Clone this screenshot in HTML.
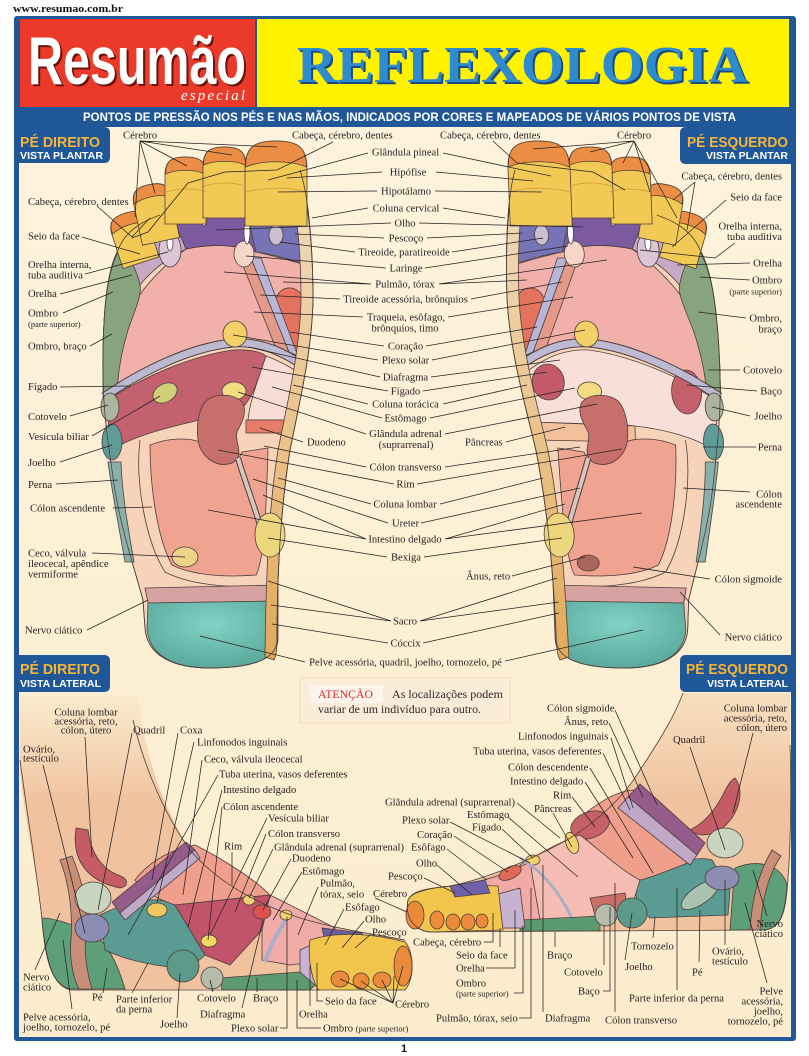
<!DOCTYPE html>
<html><head><meta charset="utf-8">
<style>
html,body{margin:0;padding:0;background:#fff;}
svg{display:block;}
.t text{font-family:"Liberation Serif",serif;font-size:10.6px;fill:#231f20;}
.t .s,.s{font-size:8.5px;}
.t .m{text-anchor:middle;}
.t .e{text-anchor:end;}
</style></head><body>
<svg width="809" height="1056" viewBox="0 0 809 1056" xmlns="http://www.w3.org/2000/svg" xmlns:xlink="http://www.w3.org/1999/xlink">
<defs>
<linearGradient id="sp" x1="0" y1="170" x2="0" y2="660" gradientUnits="userSpaceOnUse">
<stop offset="0" stop-color="#f0dcc0"/><stop offset="0.5" stop-color="#ebc58e"/><stop offset="1" stop-color="#e2a95a"/></linearGradient>
<radialGradient id="hl" cx="0.5" cy="0.35" r="0.65"><stop offset="0" stop-color="#82d2c5"/><stop offset="1" stop-color="#5aa99c"/></radialGradient>
<linearGradient id="legR" x1="0" y1="690" x2="0" y2="800" gradientUnits="userSpaceOnUse"><stop offset="0" stop-color="#f3d2b0" stop-opacity="0.15"/><stop offset="1" stop-color="#f0c29f"/></linearGradient>
<linearGradient id="legL" x1="0" y1="690" x2="0" y2="800" gradientUnits="userSpaceOnUse"><stop offset="0" stop-color="#f3d2b0" stop-opacity="0.55"/><stop offset="1" stop-color="#f0c29f"/></linearGradient>
<linearGradient id="bg" x1="0" y1="0" x2="0" y2="1"><stop offset="0" stop-color="#fdf3dc"/><stop offset="1" stop-color="#fbeccd"/></linearGradient>

<g id="pfA" stroke="#4d3f3a" stroke-width=".8">
<path fill="#f6d3b9" d="M118,250 C125,232 140,222 160,215 L300,170 C310,200 313,260 313,300 C312,350 300,400 290,450 C282,500 277,560 277,640 C277,660 250,668 210,668 C172,668 147,655 145,628 L143,600 C132,560 118,520 112,470 C106,430 102,400 103,350 C104,300 108,270 118,250 Z"/>
<path fill="#f2b0ab" d="M104,392 C104,370 110,345 125,318 C140,290 160,268 186,249 C210,244 235,244 256,252 C275,256 295,262 309,266 L305,364 C285,352 262,339 233,339 C190,343 150,363 104,392 Z"/>
<path fill="#87a47e" d="M118,252 C108,272 104,300 103,350 L103,398 L117,392 C118,370 122,350 128,330 C135,310 142,295 140,285 C138,270 134,258 130,252 Z"/>
<path fill="#c8a9c5" d="M120,250 C128,236 148,228 178,230 L186,249 C168,258 152,270 140,285 C136,268 130,256 120,250 Z"/>
<path fill="#7d5aa0" d="M150,232 L250,200 L256,252 C235,244 210,244 186,249 L178,230 Z"/>
<path fill="#7773b7" d="M245,205 L306,205 L309,266 C292,260 272,254 256,252 Z"/>
<path fill="#e3735e" d="M284,289 C298,284 307,297 306,318 L303,362 C287,360 273,346 273,321 C273,301 277,292 284,289 Z"/>
<path fill="#e49a89" d="M240,258 L251,258 L289,352 L279,356 Z"/>
<path fill="#b8b6d8" d="M251,258 L261,258 L298,356 L289,352 Z"/>
<ellipse cx="244" cy="254" rx="10" ry="13" fill="#f5d6c8"/>
<ellipse cx="276" cy="235" rx="7" ry="10" fill="#cbbfd0"/>
<ellipse cx="170" cy="250" rx="11" ry="17" fill="#dac6d6"/>
<ellipse cx="204" cy="212" rx="3.5" ry="14" fill="#fff"/>
<ellipse cx="247" cy="232" rx="3" ry="12" fill="#fff"/>
<ellipse cx="170" cy="243" rx="3" ry="8" fill="#fff"/>
</g>

<g id="pfB" stroke="#4d3f3a" stroke-width=".8">
<path fill="#f1a392" d="M150,445 C170,437 190,438 200,442 L215,462 C225,468 238,462 242,452 L268,448 C267,480 266,520 263,545 C261,560 259,570 256,575 C220,578 190,574 172,565 C158,540 150,490 150,445 Z"/>
<path fill="none" d="M140,440 C135,480 145,540 165,572 C190,585 230,588 262,586"/>
<path fill="none" stroke-width="9" d="M104,397 C140,372 190,347 233,343 C262,341 285,353 305,367"/>
<path fill="none" stroke="#bdb9d3" stroke-width="7" d="M104,397 C140,372 190,347 233,343 C262,341 285,353 305,367"/>
<ellipse cx="235" cy="334" rx="12" ry="13" fill="#f4d168"/>
<ellipse cx="234" cy="391" rx="12" ry="9" fill="#f4dc80"/>
<path fill="#c66f6b" d="M205,402 C212,394 232,392 242,402 C248,412 242,422 237,432 C234,442 246,455 232,463 C216,469 200,456 198,440 C196,424 199,410 205,402 Z"/>
<path fill="none" stroke-width="6" d="M238,458 C245,482 255,507 262,532"/>
<path fill="none" stroke="#d6c6bf" stroke-width="4" d="M238,458 C245,482 255,507 262,532"/>
<path fill="#d7a3a2" d="M145,588 L278,585 L278,601 L148,603 Z"/>
<path fill="url(#hl)" d="M148,603 L278,601 L278,640 C277,660 250,668 210,668 C172,668 150,655 147,630 Z"/>
<path fill="url(#sp)" d="M298,172 C310,200 313,260 313,300 C312,350 300,400 290,450 C282,500 277,560 277,640 C277,650 276,656 274,660 L265,657 C266,560 270,500 278,450 C288,400 300,350 301,300 C301,260 298,210 288,176 Z"/>
<ellipse cx="270" cy="535" rx="15" ry="22" fill="#ecd77f"/>
<ellipse cx="110" cy="407" rx="9" ry="14" fill="#abb59f"/>
<ellipse cx="112" cy="442" rx="10" ry="18" fill="#5f9c98"/>
<path fill="#8bb0ab" d="M108,462 C112,492 118,522 125,562 L134,562 C127,522 122,492 121,462 Z"/>
<g transform="rotate(-18 133 238)"><path fill="#f2c955" d="M114,264 L114,229.1 C114,215.8 119.7,212 133,212 C146.3,212 152,215.8 152,229.1 L152,264 Z"/><path fill="#ec8d44" d="M114.5,228 C114.5,215.8 119.7,212 133,212 C146.3,212 151.5,215.8 151.5,228 C141,223 125,223 114.5,228 Z"/></g>
<g transform="rotate(-12 155 213)"><path fill="#f2c955" d="M136,242 L136,201.1 C136,187.8 141.7,184 155,184 C168.3,184 174,187.8 174,201.1 L174,242 Z"/><path fill="#ec8d44" d="M136.5,200 C136.5,187.8 141.7,184 155,184 C168.3,184 173.5,187.8 173.5,200 C163,195 147,195 136.5,200 Z"/></g>
<path fill="#f2c955" d="M165,224 L165,175.5 C165,161.1 171.2,157 185.5,157 C199.8,157 206,161.1 206,175.5 L206,224 Z"/>
<path fill="#ec8d44" d="M165.5,174 C165.5,161.1 171.2,157 185.5,157 C199.8,157 205.5,161.1 205.5,174 C194,169 177,169 165.5,174 Z"/>
<path fill="#f2c955" d="M203,218 L203,166.4 C203,151.3 209.5,147 224.5,147 C239.5,147 246,151.3 246,166.4 L246,218 Z"/>
<path fill="#ec8d44" d="M203.5,165 C203.5,151.3 209.5,147 224.5,147 C239.5,147 245.5,151.3 245.5,165 C234,160 215,160 203.5,165 Z"/>
<path fill="#f2c955" d="M245,226 L245,168.9 C245,147.2 254.3,141 276,141 C297.7,141 307,147.2 307,168.9 L307,226 Z"/>
<path fill="#ec8d44" d="M245.5,167 C245.5,147.2 254.3,141 276,141 C297.7,141 306.5,147.2 306.5,167 C290,160 262,160 245.5,167 Z"/>
<path fill="none" stroke="#c99a3a" d="M246,192 C265,187 290,187 307,192 M204,186 C218,182 232,182 246,186 M166,192 C180,188 195,188 206,192"/>
<path fill="none" d="M118,250 C125,232 140,222 160,215 M300,170 C310,200 313,260 313,300 C312,350 300,400 290,450 C282,500 277,560 277,640 C277,660 250,668 210,668 C172,668 147,655 145,628 L143,600 C132,560 118,520 112,470 C106,430 102,400 103,350 C104,300 108,270 118,250"/>
</g>
</defs>

<rect width="809" height="1056" fill="#fff"/>
<text x="13" y="12" font-family="Liberation Serif,serif" font-weight="bold" font-size="11" textLength="110" lengthAdjust="spacingAndGlyphs" fill="#111">www.resumao.com.br</text>
<rect x="14" y="16" width="782" height="1025" rx="3" fill="#1f5799"/>
<rect x="19" y="127" width="772" height="910" fill="url(#bg)"/>
<rect x="20" y="19" width="235" height="88" fill="#ec3a2a"/>
<rect x="257" y="19" width="532" height="88" fill="#fff200"/>
<text x="30" y="86" font-family="Liberation Sans Narrow,Liberation Sans,sans-serif" font-weight="bold" font-size="68" textLength="218" lengthAdjust="spacingAndGlyphs" fill="#6a1309">Resumão</text>
<text x="28" y="84" font-family="Liberation Sans Narrow,Liberation Sans,sans-serif" font-weight="bold" font-size="68" textLength="218" lengthAdjust="spacingAndGlyphs" fill="#fff">Resumão</text>
<text x="181" y="100" font-family="Liberation Serif,serif" font-style="italic" font-size="15" textLength="64" lengthAdjust="spacing" fill="#fff">especial</text>
<text x="299" y="84" font-family="Liberation Serif,serif" font-weight="bold" font-size="52" textLength="451" lengthAdjust="spacingAndGlyphs" fill="#1b4a80">REFLEXOLOGIA</text>
<text x="297" y="82" font-family="Liberation Serif,serif" font-weight="bold" font-size="52" textLength="451" lengthAdjust="spacingAndGlyphs" fill="#2f8bd0">REFLEXOLOGIA</text>
<text x="83" y="121" font-family="Liberation Sans,sans-serif" font-weight="bold" font-size="11.5" textLength="653" lengthAdjust="spacingAndGlyphs" fill="#fff">PONTOS DE PRESSÃO NOS PÉS E NAS MÃOS, INDICADOS POR CORES E MAPEADOS DE VÁRIOS PONTOS DE VISTA</text>

<!-- tabs -->
<g font-family="Liberation Sans,sans-serif" font-weight="bold">
<path d="M14,127 L104,127 Q110,127 110,133 L110,157 Q110,163 104,163 L14,163 Z" fill="#1f5799"/>
<text x="20" y="147" font-size="15" fill="#f7b535" textLength="80" lengthAdjust="spacingAndGlyphs">PÉ DIREITO</text>
<text x="20" y="159" font-size="10.5" fill="#fff" textLength="83" lengthAdjust="spacingAndGlyphs">VISTA PLANTAR</text>
<path d="M796,127 L686,127 Q680,127 680,133 L680,158 Q680,164 686,164 L796,164 Z" fill="#1f5799"/>
<text x="687" y="147" font-size="15" fill="#f7b535" textLength="101" lengthAdjust="spacingAndGlyphs">PÉ ESQUERDO</text>
<text x="788" y="159" font-size="10.5" fill="#fff" text-anchor="end">VISTA PLANTAR</text>
<path d="M14,655 L104,655 Q110,655 110,661 L110,686 Q110,692 104,692 L14,692 Z" fill="#1f5799"/>
<text x="20" y="674" font-size="15" fill="#f7b535" textLength="80" lengthAdjust="spacingAndGlyphs">PÉ DIREITO</text>
<text x="20" y="687" font-size="10.5" fill="#fff" textLength="81" lengthAdjust="spacingAndGlyphs">VISTA LATERAL</text>
<path d="M796,655 L686,655 Q680,655 680,661 L680,686 Q680,692 686,692 L796,692 Z" fill="#1f5799"/>
<text x="686" y="674" font-size="15" fill="#f7b535" textLength="102" lengthAdjust="spacingAndGlyphs">PÉ ESQUERDO</text>
<text x="788" y="687" font-size="10.5" fill="#fff" text-anchor="end">VISTA LATERAL</text>
</g>

<!-- plantar right foot -->
<g>
<use xlink:href="#pfA"/>
<g stroke="#4d3f3a" stroke-width=".8">
<path fill="#c3616f" d="M105,402 C140,378 190,356 233,350 C250,349 262,352 266,356 C258,380 252,400 240,410 L200,420 C165,428 135,436 115,448 C110,430 106,415 105,402 Z"/>
<path fill="#f8ddd5" d="M266,356 C282,362 296,370 302,376 L293,420 L248,420 C250,400 258,380 266,356 Z"/>
<ellipse cx="165" cy="393" rx="13" ry="9" transform="rotate(-30 165 393)" fill="#cfd077"/>
<path fill="#e87c6b" d="M246,420 L288,420 L287,433 L246,433 Z"/>
</g>
<use xlink:href="#pfB"/>
<ellipse cx="185" cy="557" rx="13" ry="10" fill="#ecd487" stroke="#4d3f3a" stroke-width=".8"/>
</g>
<!-- plantar left foot -->
<g transform="matrix(-1,0,0.0386,1,808.5,0)">
<use xlink:href="#pfA"/>
<g stroke="#4d3f3a" stroke-width=".8">
<path fill="#f8e0d8" d="M105,402 C140,378 190,356 233,350 C255,349 275,355 302,376 L293,422 L200,425 C165,428 135,436 115,448 C110,430 106,415 105,402 Z"/>
<ellipse cx="137" cy="392" rx="15" ry="22" fill="#c46069"/>
<ellipse cx="275" cy="382" rx="16" ry="18" fill="#c45a6a"/>
<path fill="#f3c09c" d="M190,426 L292,422 L290,440 L190,442 Z"/>
</g>
<use xlink:href="#pfB"/>
<ellipse cx="242" cy="563" rx="11" ry="8" fill="#a9665c" stroke="#4d3f3a" stroke-width=".8"/>
</g>

<!-- attention box -->
<rect x="300" y="678" width="210" height="45" fill="#fbecd9" stroke="#efdcc0"/>
<rect x="310" y="685" width="73" height="18" fill="#fdf5ec"/>
<g font-family="Liberation Serif,serif" font-size="11.5">
<text x="318" y="698" fill="#d42a2a" textLength="55" lengthAdjust="spacingAndGlyphs">ATENÇÃO</text>
<text x="392" y="698" fill="#2a2a2a" textLength="111" lengthAdjust="spacingAndGlyphs">As localizações podem</text>
<text x="318" y="713" fill="#2a2a2a" textLength="163" lengthAdjust="spacingAndGlyphs">variar de um indivíduo para outro.</text>
</g>

<!-- right lateral -->
<g stroke="#4d3f3a" stroke-width=".8">
<path fill="url(#legR)" stroke="none" d="M20,695 L138,695 C145,760 165,810 190,850 C220,885 260,905 300,918 C340,930 380,935 405,940 C415,950 414,975 405,988 L70,990 C52,985 45,960 42,920 C38,880 25,820 20,770 Z"/>
<path fill="#5d9f79" d="M42,920 C46,960 52,985 70,989 L125,989 C118,965 108,945 95,935 C75,925 55,918 42,918 Z"/>
<path fill="#c98e78" d="M60,860 C68,880 73,910 71,940 C69,960 74,980 79,989 L92,989 C86,970 84,950 86,930 C88,905 82,880 72,856 Z"/>
<path fill="#5a9b93" d="M100,915 C130,900 160,895 175,905 L205,955 L190,968 C160,968 125,960 105,950 Z"/>
<path fill="#ef9f8c" d="M135,880 C150,860 175,848 195,845 C225,860 255,880 270,895 L175,905 C160,900 145,893 135,880 Z"/>
<path fill="#c1546a" d="M175,905 L270,895 L262,930 L230,965 L205,955 Z"/>
<path fill="#f2aca8" d="M270,895 C290,905 320,920 335,928 L332,960 L290,965 L262,960 L262,930 Z"/>
<path fill="#c7b2d2" d="M300,950 L322,940 L330,960 L325,985 L300,985 Z"/>
<path fill="#6e5ea0" d="M322,928 L362,933 L366,944 L326,946 Z"/>
<path fill="#c45c66" d="M76,828 C72,855 82,880 120,888 C130,886 128,878 118,875 C100,868 90,850 88,830 Z"/>
<ellipse cx="93" cy="898" rx="18" ry="16" fill="#c9d5bf"/>
<path fill="#955b8a" d="M112,902 L186,842 L195,850 L120,913 Z"/>
<path fill="#c0a8c8" d="M120,913 L195,850 L200,858 L125,920 Z"/>
<ellipse cx="92" cy="928" rx="17" ry="14" fill="#8d8cb3"/>
<path fill="#5c9a6f" d="M220,978 L300,972 L315,985 L310,990 L222,990 Z"/>
<circle cx="183" cy="966" r="16" fill="#5e9a8a"/>
<circle cx="212" cy="978" r="11" fill="#b6bca9"/>
<path fill="none" stroke="#a9aec8" stroke-width="4" d="M265,962 C272,940 282,925 292,912"/>
<ellipse cx="157" cy="910" rx="10" ry="7" fill="#f0c860"/>
<ellipse cx="209" cy="941" rx="8" ry="6" fill="#f0d860"/>
<ellipse cx="249" cy="900" rx="6" ry="5" fill="#f3d070"/>
<ellipse cx="286" cy="915" rx="6" ry="5" fill="#f3d070"/>
<ellipse cx="262" cy="912" rx="9" ry="7" fill="#e05050"/>
<path fill="#f2c64d" d="M310,940 C340,930 380,935 405,942 C415,955 414,980 405,990 L318,990 C310,975 308,955 310,940 Z"/>
<ellipse cx="340" cy="979" rx="9" ry="8" fill="#ec8a3c"/>
<ellipse cx="361" cy="981" rx="8" ry="8" fill="#ec8a3c"/>
<ellipse cx="382" cy="980" rx="9" ry="8" fill="#ec8a3c"/>
<ellipse cx="403" cy="966" rx="9" ry="20" fill="#ec8a3c"/>
<path fill="none" d="M133,720 C145,770 165,815 190,850 C220,885 260,905 300,918 C340,930 380,935 405,940 M20,760 C28,820 38,880 42,920 C45,960 52,985 70,990 L320,990"/>
</g>

<!-- left lateral -->
<g stroke="#4d3f3a" stroke-width=".8">
<path fill="url(#legL)" stroke="none" d="M683,693 L790,693 L790,745 C792,800 790,860 787,890 C785,915 780,928 765,930 L430,932 C412,930 405,915 408,900 C412,890 430,888 450,886 C490,878 530,860 567,840 C600,820 625,795 640,770 C660,740 675,715 683,693 Z"/>
<path fill="#5d9f79" d="M735,868 C760,858 782,866 787,885 C785,915 780,928 765,930 L730,930 C732,905 733,885 735,868 Z"/>
<path fill="#c98e78" d="M772,850 C760,870 752,895 750,930 L760,930 C762,900 768,875 781,856 Z"/>
<path fill="#5a9b93" d="M640,880 C665,865 695,855 712,860 L730,890 L728,915 L650,918 C635,905 632,890 640,880 Z"/>
<ellipse cx="700" cy="895" rx="22" ry="9" transform="rotate(-35 700 895)" fill="#a9c3b0"/>
<path fill="#c45c66" d="M735,778 C745,790 740,815 720,830 C705,838 695,835 690,830 C700,825 712,815 720,800 C726,790 728,782 735,778 Z"/>
<ellipse cx="725" cy="843" rx="18" ry="15" fill="#c9d5bf"/>
<path fill="#ef9f8c" d="M575,822 C600,800 620,790 635,790 L690,862 C670,870 650,878 640,880 C615,870 590,850 575,822 Z"/>
<path fill="#955b8a" d="M628,797 L640,784 L705,843 L697,855 Z"/>
<path fill="#c0a8c8" d="M618,808 L628,797 L697,855 L690,865 Z"/>
<ellipse cx="722" cy="878" rx="17" ry="12" fill="#8d8cb3"/>
<ellipse cx="590" cy="825" rx="20" ry="13" transform="rotate(-20 590 825)" fill="#c8606a"/>
<path fill="#f5bdb3" d="M520,865 C545,850 565,840 580,835 C600,850 620,870 640,880 L630,912 L560,920 L525,918 Z"/>
<path fill="#f1aaa6" d="M450,888 C480,882 505,875 530,862 L540,920 L470,925 Z"/>
<ellipse cx="510" cy="873" rx="12" ry="6" transform="rotate(-25 510 873)" fill="#e06a58"/>
<ellipse cx="572" cy="843" rx="6" ry="11" transform="rotate(-20 572 843)" fill="#f2d06a"/>
<ellipse cx="533" cy="860" rx="7" ry="5" fill="#f2d06a"/>
<path fill="none" stroke="#a9aec8" stroke-width="3" d="M520,858 C540,870 560,890 575,925"/>
<path fill="#c87068" d="M590,898 L625,893 L628,912 L595,915 Z"/>
<path fill="#5c9a6f" d="M520,920 L600,916 L600,931 L520,931 Z"/>
<circle cx="606" cy="915" r="11" fill="#b6bca9"/>
<circle cx="632" cy="913" r="15" fill="#5e9a8a"/>
<path fill="#c7b2d2" d="M495,895 L520,888 L525,928 L500,928 Z"/>
<path fill="#f2c64d" d="M408,900 C412,890 440,886 470,885 L498,886 L503,930 L430,932 C412,930 405,915 408,900 Z"/>
<path fill="#7060a8" d="M450,886 L485,880 L490,893 L455,897 Z"/>
<ellipse cx="415" cy="915" rx="9" ry="14" fill="#ec8a3c"/>
<ellipse cx="437" cy="920" rx="7" ry="9" fill="#ec8a3c"/>
<ellipse cx="453" cy="922" rx="7" ry="8" fill="#ec8a3c"/>
<ellipse cx="468" cy="922" rx="7" ry="8" fill="#ec8a3c"/>
<ellipse cx="482" cy="921" rx="6" ry="7" fill="#ec8a3c"/>
<path fill="none" d="M683,693 C675,715 660,740 640,770 C625,795 600,820 567,840 C530,860 490,878 450,886 C430,888 412,890 408,900 C405,915 412,930 430,932 L765,930 C780,928 785,915 787,890 C790,860 792,800 790,745"/>
</g>

<!-- leader lines -->
<path fill="none" stroke="#262222" stroke-width=".75" d="
M140,141 L277,147 M140,141 L232,155 M140,141 L187,166 M140,141 L155,193 M140,141 L135,217
M333,142 L277,170 L225,172 L188,183 L148,232 L132,238
M97,206 L132,237 L150,218 M82,237 L140,254 M85,274 L168,252 M60,294 L132,275 M63,313 L113,292 M90,346 L112,334
M60,387 L130,386 M70,416 L108,405 M92,436 L160,396 M60,462 L112,445 M56,484 L118,480 M113,508 L152,507 M92,553 L185,557 M87,630 L148,600
M305,662 L200,636 M505,661 L643,630
M368,153 L268,180 M443,153 L551,176
M382,172 L287,178 M436,172 L533,181
M377,191 L278,192 M435,191 L542,192
M368,208 L312,218 M443,208 L505,218
M391,223 L216,230 M419,223 L583,227
M384,238 L295,234 M427,238 L523,233
M355,252 L280,242 M452,252 L543,238
M386,268 L246,256 M425,268 L568,246
M371,284 L224,272 M371,284 L283,282 M439,284 L607,260 M439,284 L527,280
M340,299 L260,295 M471,299 L562,282
M363,317 L254,312 M448,317 L573,297
M384,346 L290,332 M426,346 L537,327
M378,360 L233,335 M432,360 L585,330
M380,377 L248,347 M431,377 L560,360
M388,391 L252,367 M423,391 L547,372
M368,404 L293,385 M443,404 L527,385
M382,418 L272,387 M430,418 L575,388
M366,434 L238,392 M445,434 L597,404
M303,442 L260,428 M506,442 L565,427
M366,467 L264,446 M445,467 L580,447
M394,484 L218,450 M417,484 L622,449
M371,504 L278,478 M440,504 L543,478
M388,523 L253,479 M421,523 L580,488
M366,539 L208,510 M366,539 L263,495 M445,539 L642,513 M445,539 L565,504
M387,557 L268,538 M424,557 L562,538
M512,576 L585,557
M391,621 L268,581 M391,621 L271,605 M420,621 L557,578 M420,621 L559,602
M388,643 L272,624 M423,643 L559,613
M493,141 L517,163 L593,172 L625,190
M634,141 L533,149 M634,141 L590,152 M634,141 L623,163 M634,141 L650,192 M634,141 L677,218
M695,182 L673,200 M695,182 L687,230 M726,200 L672,247 M735,243 L715,258 L640,250
M750,263 L677,265 M750,280 L700,277 M746,318 L698,312 M740,370 L708,370 M757,391 L687,385
M750,416 L712,407 M756,447 L703,447 M750,492 L683,488 M710,579 L633,567 M720,635 L680,592
M85,737 L92,857 M43,765 L85,933 M132,733 L98,910 M178,733 L152,880 M194,742 L157,903 M202,760 L183,895
M218,775 L128,935 M222,790 L188,927 M222,807 L208,940 M267,818 L210,935 M266,834 L235,912 M232,852 L232,885
M273,849 L249,898 M291,859 L263,910 M302,872 L273,920 M318,887 L298,935 M375,898 L407,912
M344,909 L325,945 M364,921 L342,948 M371,934 L355,948
M35,970 L60,913 M103,993 L107,968 M72,1009 L63,940 M132,993 L148,963 M177,1018 L180,973 M213,992 L210,980
M242,1008 L263,920 M257,992 L257,978 M280,1028 L287,1028 L287,917 M310,1006 L310,965 M321,1028 L297,1028 L297,980
M323,1001 L317,1001 L317,963
M393,1003 L340,979 M393,1003 L361,981 M393,1003 L382,980 M393,1003 L394,976 M393,1003 L403,966
M615,710 L657,805 M609,723 L643,797 M611,738 L633,808 M603,753 L630,810 M590,768 L653,873 M585,782 L633,858
M572,797 L595,827 M553,813 L572,847 M517,803 L560,838 M450,822 L530,863 M508,817 L578,877 M502,829 L533,858
M454,836 L508,872 M447,849 L487,880 M437,865 L472,895 M424,878 L455,893
M484,942 L493,942 L493,913 M500,947 L500,928 M486,968 L515,968 L515,910 M514,993 L523,993 L523,925
M519,1018 L531,1018 L531,888 M543,1012 L543,865 M555,947 L555,932 M604,965 L604,925 M603,991 L610,991 L610,907
M615,1012 L615,883 M653,938 L655,917 M625,960 L632,913 M699,962 L700,910 M677,990 L677,888 M725,945 L725,880
M767,916 L753,870 M767,983 L745,903 M753,733 L733,813 M690,747 L725,850
"/>

<g class="t">
<text x="123" y="138.5">Cérebro</text>
<text x="292" y="138.5">Cabeça, cérebro, dentes</text>
<text x="28" y="205">Cabeça, cérebro, dentes</text>
<text x="28" y="239.5">Seio da face</text>
<text x="28" y="268">Orelha interna,</text>
<text x="28" y="278.5">tuba auditiva</text>
<text x="28" y="297">Orelha</text>
<text x="28" y="316.5">Ombro</text>
<text x="28" y="327" class="s">(parte superior)</text>
<text x="28" y="349.5">Ombro, braço</text>
<text x="28" y="390">Fígado</text>
<text x="28" y="420">Cotovelo</text>
<text x="28" y="440">Vesícula biliar</text>
<text x="28" y="466">Joelho</text>
<text x="28" y="488">Perna</text>
<text x="30" y="511.5">Cólon ascendente</text>
<text x="28" y="556.5">Ceco, válvula</text>
<text x="28" y="567">ileocecal, apêndice</text>
<text x="28" y="577.5">vermiforme</text>
<text x="25" y="633.5">Nervo ciático</text>

<text class="m" x="405.5" y="155.5">Glândula pineal</text>
<text class="m" x="408" y="175.5">Hipófise</text>
<text class="m" x="406" y="194.5">Hipotálamo</text>
<text class="m" x="406" y="211.5">Coluna cervical</text>
<text class="m" x="405" y="226.5">Olho</text>
<text class="m" x="406" y="241.5">Pescoço</text>
<text class="m" x="404" y="255.5">Tireoide, paratireoide</text>
<text class="m" x="406" y="271.5">Laringe</text>
<text class="m" x="405" y="287.5">Pulmão, tórax</text>
<text class="m" x="405.5" y="302.5">Tireoide acessória, brônquios</text>
<text class="m" x="406" y="320.5">Traqueia, esôfago,</text>
<text class="m" x="405" y="331.5">brônquios, timo</text>
<text class="m" x="405.5" y="349.5">Coração</text>
<text class="m" x="405.5" y="363.5">Plexo solar</text>
<text class="m" x="405.5" y="380.5">Diafragma</text>
<text class="m" x="405.5" y="394.5">Fígado</text>
<text class="m" x="405.5" y="407.5">Coluna torácica</text>
<text class="m" x="405.5" y="421.5">Estômago</text>
<text class="m" x="405.5" y="437">Glândula adrenal</text>
<text class="m" x="406" y="448">(suprarrenal)</text>
<text x="307" y="445.5">Duodeno</text>
<text x="465" y="445.5">Pâncreas</text>
<text class="m" x="405.5" y="470.5">Cólon transverso</text>
<text class="m" x="405.5" y="487.5">Rim</text>
<text class="m" x="405" y="507.5">Coluna lombar</text>
<text class="m" x="405.5" y="526.5">Ureter</text>
<text class="m" x="405" y="542.5">Intestino delgado</text>
<text class="m" x="406" y="560.5">Bexiga</text>
<text x="466" y="579.5">Ânus, reto</text>
<text class="m" x="405" y="624.5">Sacro</text>
<text class="m" x="405.5" y="646.5">Cóccix</text>
<text class="m" x="405.5" y="665.5">Pelve acessória, quadril, joelho, tornozelo, pé</text>

<text x="440" y="138.5">Cabeça, cérebro, dentes</text>
<text x="617" y="138.5">Cérebro</text>
<text class="e" x="782" y="179.5">Cabeça, cérebro, dentes</text>
<text class="e" x="782" y="200.5">Seio da face</text>
<text class="e" x="782" y="229.5">Orelha interna,</text>
<text class="e" x="782" y="240">tuba auditiva</text>
<text class="e" x="782" y="266.5">Orelha</text>
<text class="e" x="782" y="283.5">Ombro</text>
<text class="e s" x="782" y="294.5">(parte superior)</text>
<text class="e" x="782" y="321.5">Ombro,</text>
<text class="e" x="782" y="332.5">braço</text>
<text class="e" x="782" y="373.5">Cotovelo</text>
<text class="e" x="782" y="394.5">Baço</text>
<text class="e" x="782" y="419.5">Joelho</text>
<text class="e" x="782" y="450.5">Perna</text>
<text class="e" x="782" y="497.5">Cólon</text>
<text class="e" x="782" y="507.5">ascendente</text>
<text class="e" x="782" y="582.5">Cólon sigmoide</text>
<text class="e" x="782" y="640.5">Nervo ciático</text>

<text class="m" x="86" y="715.5">Coluna lombar</text>
<text class="m" x="86" y="724.5">acessória, reto,</text>
<text class="m" x="86" y="733.5">cólon, útero</text>
<text x="23" y="752.5">Ovário,</text>
<text x="23" y="761.5">testículo</text>
<text x="133" y="733.5">Quadril</text>
<text x="180" y="733.5">Coxa</text>
<text x="197" y="745.5">Linfonodos inguinais</text>
<text x="204" y="762.5">Ceco, válvula ileocecal</text>
<text x="219" y="777.5">Tuba uterina, vasos deferentes</text>
<text x="223" y="793">Intestino delgado</text>
<text x="223" y="810">Cólon ascendente</text>
<text x="268" y="821.5">Vesícula biliar</text>
<text x="268" y="837">Cólon transverso</text>
<text x="224" y="849.5">Rim</text>
<text x="274" y="850.5">Glândula adrenal (suprarrenal)</text>
<text x="292" y="861.5">Duodeno</text>
<text x="302" y="874.5">Estômago</text>
<text x="320" y="886.5">Pulmão,</text>
<text x="320" y="897.5">tórax, seio</text>
<text x="373" y="897">Cérebro</text>
<text x="345" y="910.5">Esôfago</text>
<text x="365" y="922.5">Olho</text>
<text x="372" y="935.5">Pescoço</text>
<text x="23" y="980.5">Nervo</text>
<text x="23" y="990.5">ciático</text>
<text x="92" y="1000.5">Pé</text>
<text x="116" y="1002.5">Parte inferior</text>
<text x="116" y="1012.5">da perna</text>
<text x="23" y="1020.5">Pelve acessória,</text>
<text x="23" y="1030.5">joelho, tornozelo, pé</text>
<text x="160" y="1027.5">Joelho</text>
<text x="197" y="1001.5">Cotovelo</text>
<text x="253" y="1001.5">Braço</text>
<text x="200" y="1017.5">Diafragma</text>
<text x="231" y="1031.5">Plexo solar</text>
<text x="299" y="1017.5">Orelha</text>
<text x="323" y="1031.5">Ombro <tspan class="s">(parte superior)</tspan></text>
<text x="325" y="1004.5">Seio da face</text>
<text x="395" y="1007.5">Cérebro</text>

<text x="547" y="711.5">Cólon sigmoide</text>
<text x="564" y="725">Ânus, reto</text>
<text x="518" y="739.5">Linfonodos inguinais</text>
<text x="473" y="754.5">Tuba uterina, vasos deferentes</text>
<text x="508" y="770.5">Cólon descendente</text>
<text x="510" y="784.5">Intestino delgado</text>
<text x="553" y="798.5">Rim</text>
<text x="534" y="812">Pâncreas</text>
<text x="385" y="805.5">Glândula adrenal (suprarrenal)</text>
<text x="402" y="823.5">Plexo solar</text>
<text x="467" y="818">Estômago</text>
<text x="472" y="830.5">Fígado</text>
<text x="417" y="838">Coração</text>
<text x="411" y="850.5">Esôfago</text>
<text x="416" y="866.5">Olho</text>
<text x="388" y="879.5">Pescoço</text>
<text x="413" y="945.5">Cabeça, cérebro</text>
<text x="456" y="958.5">Seio da face</text>
<text x="456" y="971.5">Orelha</text>
<text x="456" y="986.5">Ombro</text>
<text x="456" y="996.5" class="s">(parte superior)</text>
<text x="436" y="1021.5">Pulmão, tórax, seio</text>
<text x="545" y="1021.5">Diafragma</text>
<text x="547" y="958.5">Braço</text>
<text x="564" y="975.5">Cotovelo</text>
<text x="578" y="994.5">Baço</text>
<text x="605" y="1023.5">Cólon transverso</text>
<text x="631" y="949.5">Tornozelo</text>
<text x="625" y="970">Joelho</text>
<text x="692" y="975.5">Pé</text>
<text x="629" y="1001.5">Parte inferior da perna</text>
<text x="712" y="954.5">Ovário,</text>
<text x="712" y="964.5">testículo</text>
<text class="e" x="783" y="927">Nervo</text>
<text class="e" x="783" y="937">ciático</text>
<text class="e" x="783" y="994.5">Pelve</text>
<text class="e" x="783" y="1004.5">acessória,</text>
<text class="e" x="783" y="1014.5">joelho,</text>
<text class="e" x="783" y="1024.5">tornozelo, pé</text>
<text class="e" x="787" y="711.5">Coluna lombar</text>
<text class="e" x="787" y="721.5">acessória, reto,</text>
<text class="e" x="787" y="731">cólon, útero</text>
<text x="673" y="743">Quadril</text>
</g>
<text x="404" y="1052" font-family="Liberation Sans,sans-serif" font-weight="bold" font-size="11" fill="#111" text-anchor="middle">1</text>
</svg>
</body></html>
